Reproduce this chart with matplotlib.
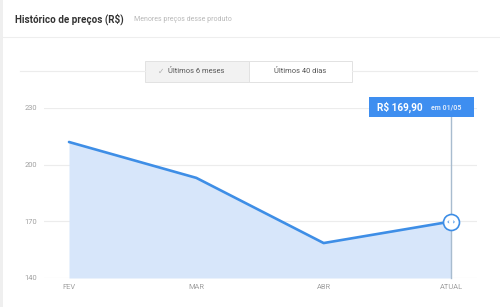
import matplotlib
matplotlib.use("Agg")
import matplotlib.pyplot as plt
from matplotlib.patches import Rectangle

months = ["FEV", "MAR", "ABR", "ATUAL"]
prices = [212.0, 193.0, 158.5, 169.90]
y_ticks = [140, 170, 200, 230]
title = "Histórico de preços (R$)"
subtitle = "Menores preços desse produto"
tab_labels = ["Últimos 6 meses", "Últimos 40 dias"]
tooltip_price = "R$ 169,90"
tooltip_date = "em 01/05"

W, H = 500, 307
plt.rcParams["font.family"] = ["Roboto", "DejaVu Sans"]
fig = plt.figure(figsize=(W / 100, H / 100), dpi=100)
fig.patch.set_facecolor("white")

def fx(px):
    return px / W

def fy(py):
    return 1 - py / H

# left grey strip
fig.patches.append(Rectangle((0, 0), fx(3), 1, transform=fig.transFigure,
                             facecolor="#efefef", edgecolor="none"))
# header separator
fig.add_artist(plt.Line2D([fx(3), 1], [fy(37), fy(37)], transform=fig.transFigure,
                          color="#eeeeee", lw=0.8))
fig.text(fx(15), fy(19), title, fontsize=7.1, color="#333333", fontweight="bold",
         va="center", ha="left")
fig.text(fx(134), fy(19.5), subtitle, fontsize=5.0, color="#b8b8b8", va="center", ha="left")

# tab buttons row
fig.add_artist(plt.Line2D([fx(20), fx(145)], [fy(71), fy(71)], transform=fig.transFigure,
                          color="#ececec", lw=0.8))
fig.add_artist(plt.Line2D([fx(352), fx(477)], [fy(71), fy(71)], transform=fig.transFigure,
                          color="#ececec", lw=0.8))
fig.patches.append(Rectangle((fx(145), fy(82)), fx(104), fy(61) - fy(82), transform=fig.transFigure,
                             facecolor="#f2f2f2", edgecolor="#e2e2e2", lw=0.7))
fig.patches.append(Rectangle((fx(249), fy(82)), fx(103), fy(61) - fy(82), transform=fig.transFigure,
                             facecolor="white", edgecolor="#e2e2e2", lw=0.7))
fig.text(fx(158), fy(71.5), "✓", fontsize=5.5, color="#b0b0b0", va="center", ha="left",
         family=["DejaVu Sans"])
fig.text(fx(168), fy(71.5), tab_labels[0], fontsize=5.4, color="#555555", va="center", ha="left")
fig.text(fx(300), fy(71.5), tab_labels[1], fontsize=5.4, color="#555555", va="center", ha="center")

# plot axes
ax_l, ax_r, ax_t, ax_b = 44, 477, 108, 278
ax = fig.add_axes([fx(ax_l), fy(ax_b), fx(ax_r - ax_l), fy(ax_t) - fy(ax_b)])
xs = list(range(len(months)))
ppu = (451 - 69) / 3
ax.set_xlim(-(69 - ax_l) / ppu, 3 + (ax_r - 451) / ppu)
ax.set_ylim(y_ticks[0], y_ticks[-1])
ax.set_facecolor("none")
for s in ax.spines.values():
    s.set_visible(False)
ax.set_yticks(y_ticks)
ax.set_xticks(xs)
ax.set_xticklabels(months)
ax.tick_params(length=0, labelsize=5.4, colors="#a0a0a0", pad=4)
ax.tick_params(axis="y", pad=5)
ax.grid(axis="y", color="#ececec", lw=0.8)
ax.grid(axis="x", visible=False)
ax.set_axisbelow(True)

ax.fill_between(xs, prices, y_ticks[0], color="#d7e6fa", lw=0, zorder=1)
ax.plot(xs, prices, color="#3e8ee6", lw=1.9, solid_capstyle="round",
        solid_joinstyle="round", zorder=3)

# vertical cursor line
last = len(months) - 1
ax.plot([last, last], [y_ticks[0], y_ticks[-1] + 3.2], color="#a8bccf", lw=1.0,
        zorder=2, clip_on=False)
ax.plot([last], [prices[-1]], marker="o", markersize=11.5, markerfacecolor="white",
        markeredgecolor="#3e8ee6", markeredgewidth=1.2, zorder=5, clip_on=False)
ax.text(last, prices[-1], "‹ ›", fontsize=5, color="#3e8ee6", ha="center", va="center",
        zorder=6, fontweight="bold", family=["DejaVu Sans"])

# tooltip
fig.patches.append(Rectangle((fx(369), fy(117)), fx(105), fy(97) - fy(117), transform=fig.transFigure,
                             facecolor="#3e8ef0", edgecolor="none"))
fig.text(fx(377), fy(107.5), tooltip_price, fontsize=7.2, color="white", fontweight="bold",
         va="center", ha="left")
fig.text(fx(431), fy(107.5), tooltip_date, fontsize=5.0, color="#dce9fb", fontweight="bold",
         va="center", ha="left")

fig.savefig("out.png", dpi=100, facecolor="white")
